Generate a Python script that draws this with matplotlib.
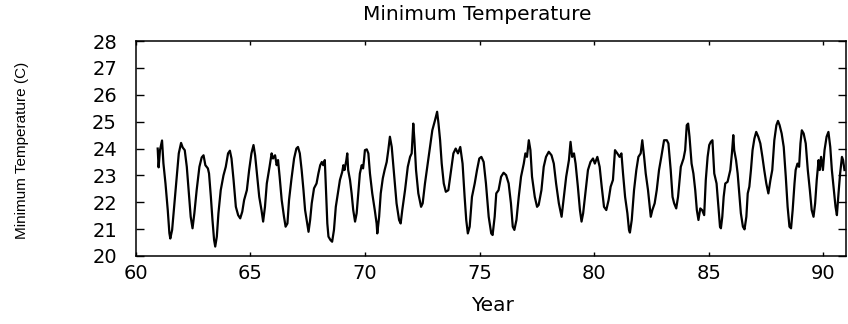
import matplotlib
matplotlib.use("Agg")
import matplotlib.pyplot as plt

plt.rcParams["font.family"] = ["DejaVu Sans"]

# points (decimal year, minimum temperature in C)
years = [
    60.96, 61.0, 61.06, 61.15, 61.21, 61.3, 61.4, 61.47, 61.51, 61.59, 61.69, 61.79, 61.88, 61.98,
    62.05, 62.14, 62.23, 62.32, 62.4, 62.48, 62.56, 62.66, 62.78, 62.88, 62.96, 63.04, 63.15,
    63.2, 63.28, 63.35, 63.42, 63.47, 63.54, 63.61, 63.71, 63.83, 63.93, 64.03, 64.11, 64.18,
    64.27, 64.37, 64.47, 64.56, 64.65, 64.73, 64.85, 64.95, 65.05, 65.14, 65.21, 65.29, 65.39,
    65.49, 65.56, 65.64, 65.72, 65.84, 65.93, 65.99, 66.08, 66.15, 66.21, 66.28, 66.37, 66.47,
    66.54, 66.62, 66.69, 66.79, 66.91, 67.01, 67.08, 67.16, 67.24, 67.32, 67.39, 67.48, 67.54,
    67.61, 67.68, 67.78, 67.89, 67.97, 68.05, 68.12, 68.18, 68.25, 68.3, 68.36, 68.41, 68.5,
    68.57, 68.65, 68.73, 68.82, 68.91, 69.01, 69.06, 69.11, 69.19, 69.23, 69.27, 69.35, 69.42,
    69.49, 69.57, 69.64, 69.71, 69.78, 69.86, 69.92, 69.96, 70.0, 70.08, 70.15, 70.22, 70.32,
    70.43, 70.51, 70.54, 70.62, 70.69, 70.78, 70.86, 70.95, 71.02, 71.09, 71.17, 71.28, 71.38,
    71.49, 71.56, 71.63, 71.75, 71.87, 71.97, 72.04, 72.11, 72.16, 72.23, 72.33, 72.45, 72.52,
    72.62, 72.74, 72.84, 72.94, 73.06, 73.15, 73.21, 73.28, 73.35, 73.44, 73.53, 73.64, 73.76,
    73.86, 73.96, 74.06, 74.16, 74.26, 74.35, 74.42, 74.49, 74.57, 74.67, 74.79, 74.89, 74.99,
    75.08, 75.18, 75.28, 75.4, 75.51, 75.57, 75.66, 75.73, 75.83, 75.94, 76.05, 76.16, 76.27,
    76.37, 76.45, 76.52, 76.61, 76.71, 76.81, 76.93, 77.0, 77.07, 77.15, 77.22, 77.29, 77.41,
    77.51, 77.58, 77.7, 77.8, 77.9, 78.02, 78.14, 78.24, 78.34, 78.46, 78.58, 78.68, 78.78,
    78.9, 78.97, 79.04, 79.12, 79.19, 79.29, 79.38, 79.45, 79.52, 79.63, 79.73, 79.84, 79.95,
    80.03, 80.14, 80.24, 80.33, 80.43, 80.53, 80.63, 80.72, 80.82, 80.91, 81.01, 81.11, 81.19,
    81.26, 81.35, 81.45, 81.52, 81.56, 81.64, 81.74, 81.84, 81.93, 82.03, 82.1, 82.18, 82.25,
    82.35, 82.47, 82.54, 82.64, 82.73, 82.83, 82.93, 83.05, 83.17, 83.24, 83.34, 83.42, 83.49,
    83.58, 83.66, 83.78, 83.9, 83.97, 84.04, 84.1, 84.16, 84.25, 84.33, 84.41, 84.48, 84.55,
    84.63, 84.71, 84.8, 84.87, 84.95, 85.02, 85.09, 85.16, 85.24, 85.34, 85.41, 85.49, 85.53,
    85.59, 85.65, 85.72, 85.82, 85.94, 86.01, 86.07, 86.11, 86.19, 86.26, 86.33, 86.4, 86.49,
    86.56, 86.64, 86.7, 86.77, 86.84, 86.91, 86.99, 87.07, 87.16, 87.25, 87.34, 87.42, 87.51,
    87.6, 87.69, 87.77, 87.86, 87.95, 88.02, 88.09, 88.18, 88.27, 88.36, 88.44, 88.52, 88.59,
    88.66, 88.74, 88.79, 88.87, 88.94, 89.0, 89.06, 89.14, 89.23, 89.32, 89.41, 89.49, 89.57,
    89.64, 89.71, 89.79, 89.84, 89.9, 89.98, 90.05, 90.14, 90.22, 90.3, 90.37, 90.46, 90.53,
    90.59, 90.66, 90.73, 90.81, 90.86, 90.92,
]
temps = [
    24.0, 23.3, 23.94, 24.3, 23.45, 22.7, 21.7, 20.85, 20.65, 20.97, 21.96, 22.95, 23.82, 24.21,
    24.04, 23.94, 23.32, 22.33, 21.46, 21.03, 21.59, 22.45, 23.32, 23.67, 23.75, 23.38, 23.26,
    23.07, 22.2, 21.34, 20.6, 20.35, 20.72, 21.59, 22.45, 23.0, 23.32, 23.82, 23.92, 23.63,
    22.83, 21.83, 21.52, 21.4, 21.65, 22.08, 22.45, 23.2, 23.82, 24.13, 23.75, 23.07, 22.2,
    21.7, 21.28, 21.83, 22.7, 23.32, 23.82, 23.63, 23.75, 23.38, 23.57, 22.95, 22.08, 21.46,
    21.09, 21.21, 22.08, 22.83, 23.63, 24.0, 24.06, 23.82, 23.2, 22.45, 21.71, 21.21, 20.9,
    21.34, 21.96, 22.52, 22.7, 23.07, 23.38, 23.5, 23.38, 23.57, 22.45, 21.21, 20.72, 20.59,
    20.53, 20.97, 21.83, 22.33, 22.83, 23.13, 23.38, 23.2, 23.57, 23.82, 23.2, 22.83, 22.33,
    21.71, 21.28, 21.59, 22.33, 23.07, 23.38, 23.26, 23.57, 23.94, 23.97, 23.82, 23.07, 22.33,
    21.71, 21.21, 20.84, 21.46, 22.33, 22.89, 23.2, 23.5, 23.94, 24.44, 24.06, 22.95, 21.96,
    21.34, 21.21, 21.71, 22.45, 23.32, 23.69, 23.82, 24.93, 24.31, 23.2, 22.33, 21.83, 21.96,
    22.7, 23.44, 24.06, 24.68, 25.06, 25.37, 24.93, 24.31, 23.44, 22.7, 22.39, 22.45, 23.2,
    23.82, 24.0, 23.82, 24.06, 23.44, 22.2, 21.34, 20.84, 21.09, 22.2, 22.7, 23.2, 23.63,
    23.69, 23.5, 22.7, 21.46, 20.84, 20.78, 21.46, 22.33, 22.45, 22.95, 23.1, 23.01, 22.7,
    21.96, 21.09, 20.97, 21.34, 22.2, 22.95, 23.44, 23.82, 23.69, 24.31, 23.94, 22.95, 22.2,
    21.83, 21.9, 22.45, 23.32, 23.69, 23.88, 23.75, 23.44, 22.7, 21.96, 21.46, 22.2, 22.95,
    23.57, 24.25, 23.69, 23.82, 23.44, 22.58, 21.71, 21.28, 21.59, 22.45, 23.2, 23.5, 23.63,
    23.44, 23.69, 23.32, 22.58, 21.83, 21.71, 22.08, 22.58, 22.83, 23.94, 23.82, 23.69, 23.82,
    23.07, 22.2, 21.59, 20.97, 20.87, 21.34, 22.45, 23.2, 23.69, 23.82, 24.31, 23.69, 23.07,
    22.45, 21.46, 21.71, 21.96, 22.45, 23.2, 23.69, 24.31, 24.31, 24.19, 23.2, 22.2, 21.96,
    21.77, 22.2, 23.32, 23.63, 23.94, 24.87, 24.93, 24.44, 23.44, 23.07, 22.45, 21.71, 21.34,
    21.77, 21.71, 21.52, 22.83, 23.69, 24.13, 24.25, 24.31, 23.07, 22.7, 21.96, 21.09, 21.03,
    21.46, 22.2, 22.7, 22.76, 23.2, 23.82, 24.5, 23.94, 23.57, 23.07, 22.33, 21.59, 21.09,
    20.99, 21.46, 22.33, 22.58, 23.2, 23.94, 24.37, 24.62, 24.44, 24.19, 23.69, 23.2, 22.7,
    22.33, 22.83, 23.2, 24.31, 24.87, 25.03, 24.87, 24.56, 24.06, 22.95, 21.83, 21.09, 21.03,
    21.71, 22.7, 23.2, 23.44, 23.32, 24.19, 24.68, 24.56, 24.19, 23.2, 22.45, 21.71, 21.46,
    21.96, 22.83, 23.57, 23.2, 23.69, 23.2, 23.94, 24.44, 24.62, 24.06, 23.2, 22.45, 21.83,
    21.52, 22.33, 23.07, 23.69, 23.57, 23.2,
]

fig = plt.figure(figsize=(8.48, 3.24), dpi=100)
ax = fig.add_axes([0.160, 0.21, 0.838, 0.663])

ax.plot(years, temps, color="black", linewidth=1.6)

ax.set_xlim(60, 91)
ax.set_ylim(20, 28)
ax.set_xticks([60, 65, 70, 75, 80, 85, 90])
ax.set_yticks(range(20, 29))
ax.tick_params(direction="in", top=True, right=True, width=1, labelsize=14)
ax.tick_params(axis="x", length=3, pad=6)
ax.tick_params(axis="y", length=6, pad=13.5)
for s in ax.spines.values():
    s.set_linewidth(1.1)

fig.suptitle("Minimum Temperature", x=477 / 848, y=1 - 15 / 324, va="center", fontsize=14.5)
ax.set_xlabel("Year", fontsize=14.5)
ax.xaxis.set_label_coords((493 - 136) / 710, (256 - 306) / 215)
ax.xaxis.label.set_va("center")
ax.set_ylabel("Minimum Temperature (C)", fontsize=11,
              family=["Liberation Sans Narrow", "Liberation Sans", "DejaVu Sans"])
ax.yaxis.set_label_coords((29 - 136) / 710, 0.49)

fig.savefig("out.png", dpi=100)
